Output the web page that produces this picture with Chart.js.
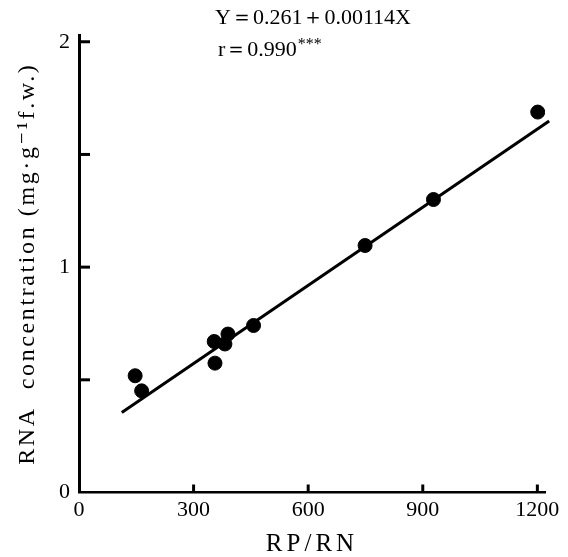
<!DOCTYPE html>
<html>
<head>
<meta charset="utf-8">
<script src="https://cdn.jsdelivr.net/npm/chart.js@4"></script>
<style>
  html, body { margin: 0; padding: 0; background: #fff; }
  #wrap { width: 568px; height: 557px; position: relative; }
</style>
</head>
<body>
<div id="wrap"><canvas id="c"></canvas></div>
<script>
// ---- data ----
const rpRn = [147, 164, 354, 356, 382, 390, 457, 749, 928, 1201];
const rnaConc = [0.518, 0.451, 0.670, 0.574, 0.659, 0.703, 0.741, 1.096, 1.300, 1.688];
const fitX = [112, 1231];
const fitY = [0.355, 1.648];
const xTickValues = [0, 300, 600, 900, 1200];
const xTickLabels = ['0', '300', '600', '900', '1200'];
const yTickValues = [0, 0.5, 1, 1.5, 2];
const yTickLabels = ['0', '', '1', '', '2'];
const xTitle = 'RP/RN';
const yTitle = 'RNA  concentration (mg·g⁻¹f.w.)';
const eqLine1 = 'Y＝0.261＋0.00114X';
const eqLine2 = 'r＝0.990';
const eqStars = '***';

const SERIF = '"Liberation Serif", "DejaVu Serif", serif';

const innerTicks = {
  id: 'innerTicks',
  afterDatasetsDraw(chart) {
    const ctx = chart.ctx, xs = chart.scales.x, ys = chart.scales.y, ca = chart.chartArea;
    ctx.save();
    ctx.strokeStyle = '#000';
    ctx.lineWidth = 3;
    yTickValues.forEach(v => {
      if (v === 0) return;
      const y = ys.getPixelForValue(v);
      ctx.beginPath(); ctx.moveTo(ca.left, y); ctx.lineTo(ca.left + 11, y); ctx.stroke();
    });
    xTickValues.forEach(v => {
      if (v === 0) return;
      const x = xs.getPixelForValue(v);
      ctx.beginPath(); ctx.moveTo(x, ca.bottom); ctx.lineTo(x, ca.bottom - 8); ctx.stroke();
    });
    // equation text
    ctx.fillStyle = '#000';
    ctx.textBaseline = 'middle';
    ctx.textAlign = 'left';
    ctx.font = '22px ' + SERIF;
    ctx.fillText(eqLine1, 215, 18);
    ctx.fillText(eqLine2, 218, 50);
    const w = ctx.measureText(eqLine2).width;
    ctx.font = '16px ' + SERIF;
    ctx.fillText(eqStars, 218 + w + 1, 45);
    ctx.restore();
  }
};

const chart = new Chart(document.getElementById('c'), {
  type: 'scatter',
  data: {
    datasets: [
      {
        data: rpRn.map((x, i) => ({ x, y: rnaConc[i] })),
        backgroundColor: '#000',
        borderColor: '#000',
        pointRadius: 7,
        pointHoverRadius: 7,
        showLine: false
      },
      {
        data: fitX.map((x, i) => ({ x, y: fitY[i] })),
        showLine: true,
        borderColor: '#000',
        borderWidth: 3,
        pointRadius: 0,
        clip: false
      }
    ]
  },
  plugins: [innerTicks],
  options: {
    responsive: true,
    maintainAspectRatio: false,
    animation: false,
    events: [],
    layout: { padding: { top: 35, right: 23, bottom: 0, left: 0 } },
    plugins: { legend: { display: false }, tooltip: { enabled: false } },
    scales: {
      x: {
        type: 'linear',
        min: 0, max: 1220,
        afterBuildTicks(s) { s.ticks = xTickValues.map(v => ({ value: v })); },
        afterFit(s) { s.height = 64.5; },
        grid: { display: false, drawTicks: false },
        border: { display: true, color: '#000', width: 2.5 },
        ticks: {
          color: '#000',
          padding: 5,
          maxRotation: 0,
          font: { family: SERIF, size: 22 },
          callback(v) { const i = xTickValues.indexOf(v); return i >= 0 ? xTickLabels[i] : ''; }
        },
        title: {
          display: true, text: xTitle, color: '#000',
          font: { family: SERIF, size: 25, lineHeight: 1 },
          padding: { top: 0, bottom: 0 }
        }
      },
      y: {
        type: 'linear',
        min: 0, max: 2.03,
        afterBuildTicks(s) { s.ticks = yTickValues.map(v => ({ value: v })); },
        afterFit(s) { s.width = 79; },
        grid: { display: false, drawTicks: false },
        border: { display: true, color: '#000', width: 3 },
        ticks: {
          color: '#000',
          padding: 9,
          font: { family: SERIF, size: 22 },
          callback(v) { const i = yTickValues.indexOf(v); return i >= 0 ? yTickLabels[i] : ''; }
        },
        title: {
          display: true, text: yTitle, color: '#000',
          font: { family: SERIF, size: 24, lineHeight: 1 },
          padding: { top: 16, bottom: 0 }
        }
      }
    }
  }
});

// wider letter spacing for the axis titles, as in the typeset original
['x', 'y'].forEach(id => {
  const sc = chart.scales[id];
  const orig = sc.drawTitle.bind(sc);
  sc.drawTitle = function (a) {
    const ctx = this.ctx;
    const prev = ctx.letterSpacing;
    ctx.letterSpacing = id === 'x' ? '4px' : '2.6px';
    orig(a);
    ctx.letterSpacing = prev || '0px';
  };
});
chart.draw();
</script>
</body>
</html>
